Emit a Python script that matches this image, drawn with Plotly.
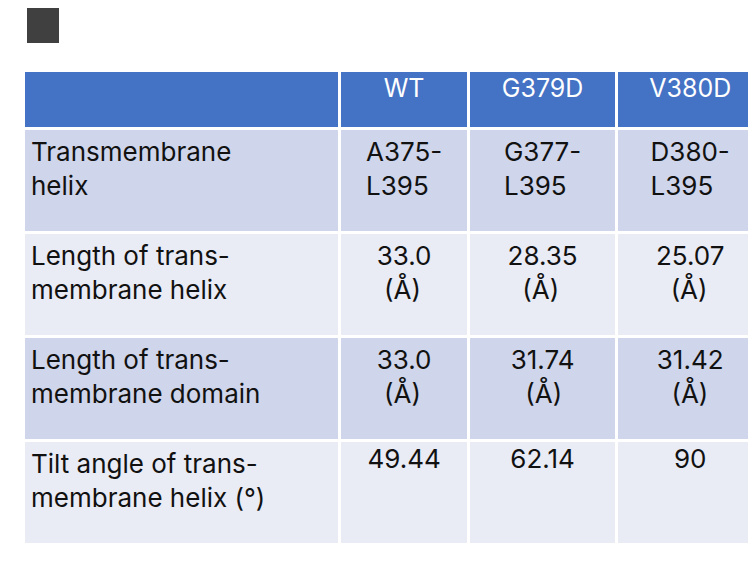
import plotly.graph_objects as go

NB = "\u00a0"
headers = ["", "WT", "G379D", "V380D"]
row_labels = ["Transmembrane<br>helix", "Length of trans-<br>membrane helix",
              "Length of trans-<br>membrane domain", "Tilt angle of trans-<br>membrane helix (°)"]
wt = ["A375-<br>L395", "33.0<br>" + NB + "(Å)", "33.0<br>" + NB + "(Å)", "49.44"]
g379d = ["G377-<br>L395", "28.35<br>" + NB * 2 + "(Å)", "31.74<br>" + NB * 2 + "(Å)", "62.14"]
v380d = ["D380-<br>L395", "25.07<br>" + NB * 2 + "(Å)", "31.42<br>" + NB * 2 + "(Å)", "90"]

row_colors = ["#CFD5EA", "#E9EBF5", "#CFD5EA", "#E9EBF5"]

fig = go.Figure(go.Table(
    domain=dict(x=[15/756, 1], y=[0, 1 - 62/576]),
    columnwidth=[313, 128, 146, 146],
    header=dict(values=headers, fill_color="#4472C4",
                line=dict(color="white", width=3),
                font=dict(family="Inter", size=25, color="white"),
                align=["left", "center"], height=58),
    cells=dict(values=[row_labels, wt, g379d, v380d],
               fill_color=[row_colors] * 4,
               line=dict(color="white", width=3),
               font=dict(family="Inter", size=26, color="#111111"),
               align=["left", "center"], height=104),
))
fig.add_shape(type="rect", xref="paper", yref="paper",
              x0=19/756, x1=51/756, y0=1 - 35/576, y1=1.0,
              fillcolor="#404040", line_width=0)
fig.update_layout(width=756, height=576, margin=dict(l=0, r=0, t=0, b=0),
                  paper_bgcolor="white")
fig.write_html("out.html")
